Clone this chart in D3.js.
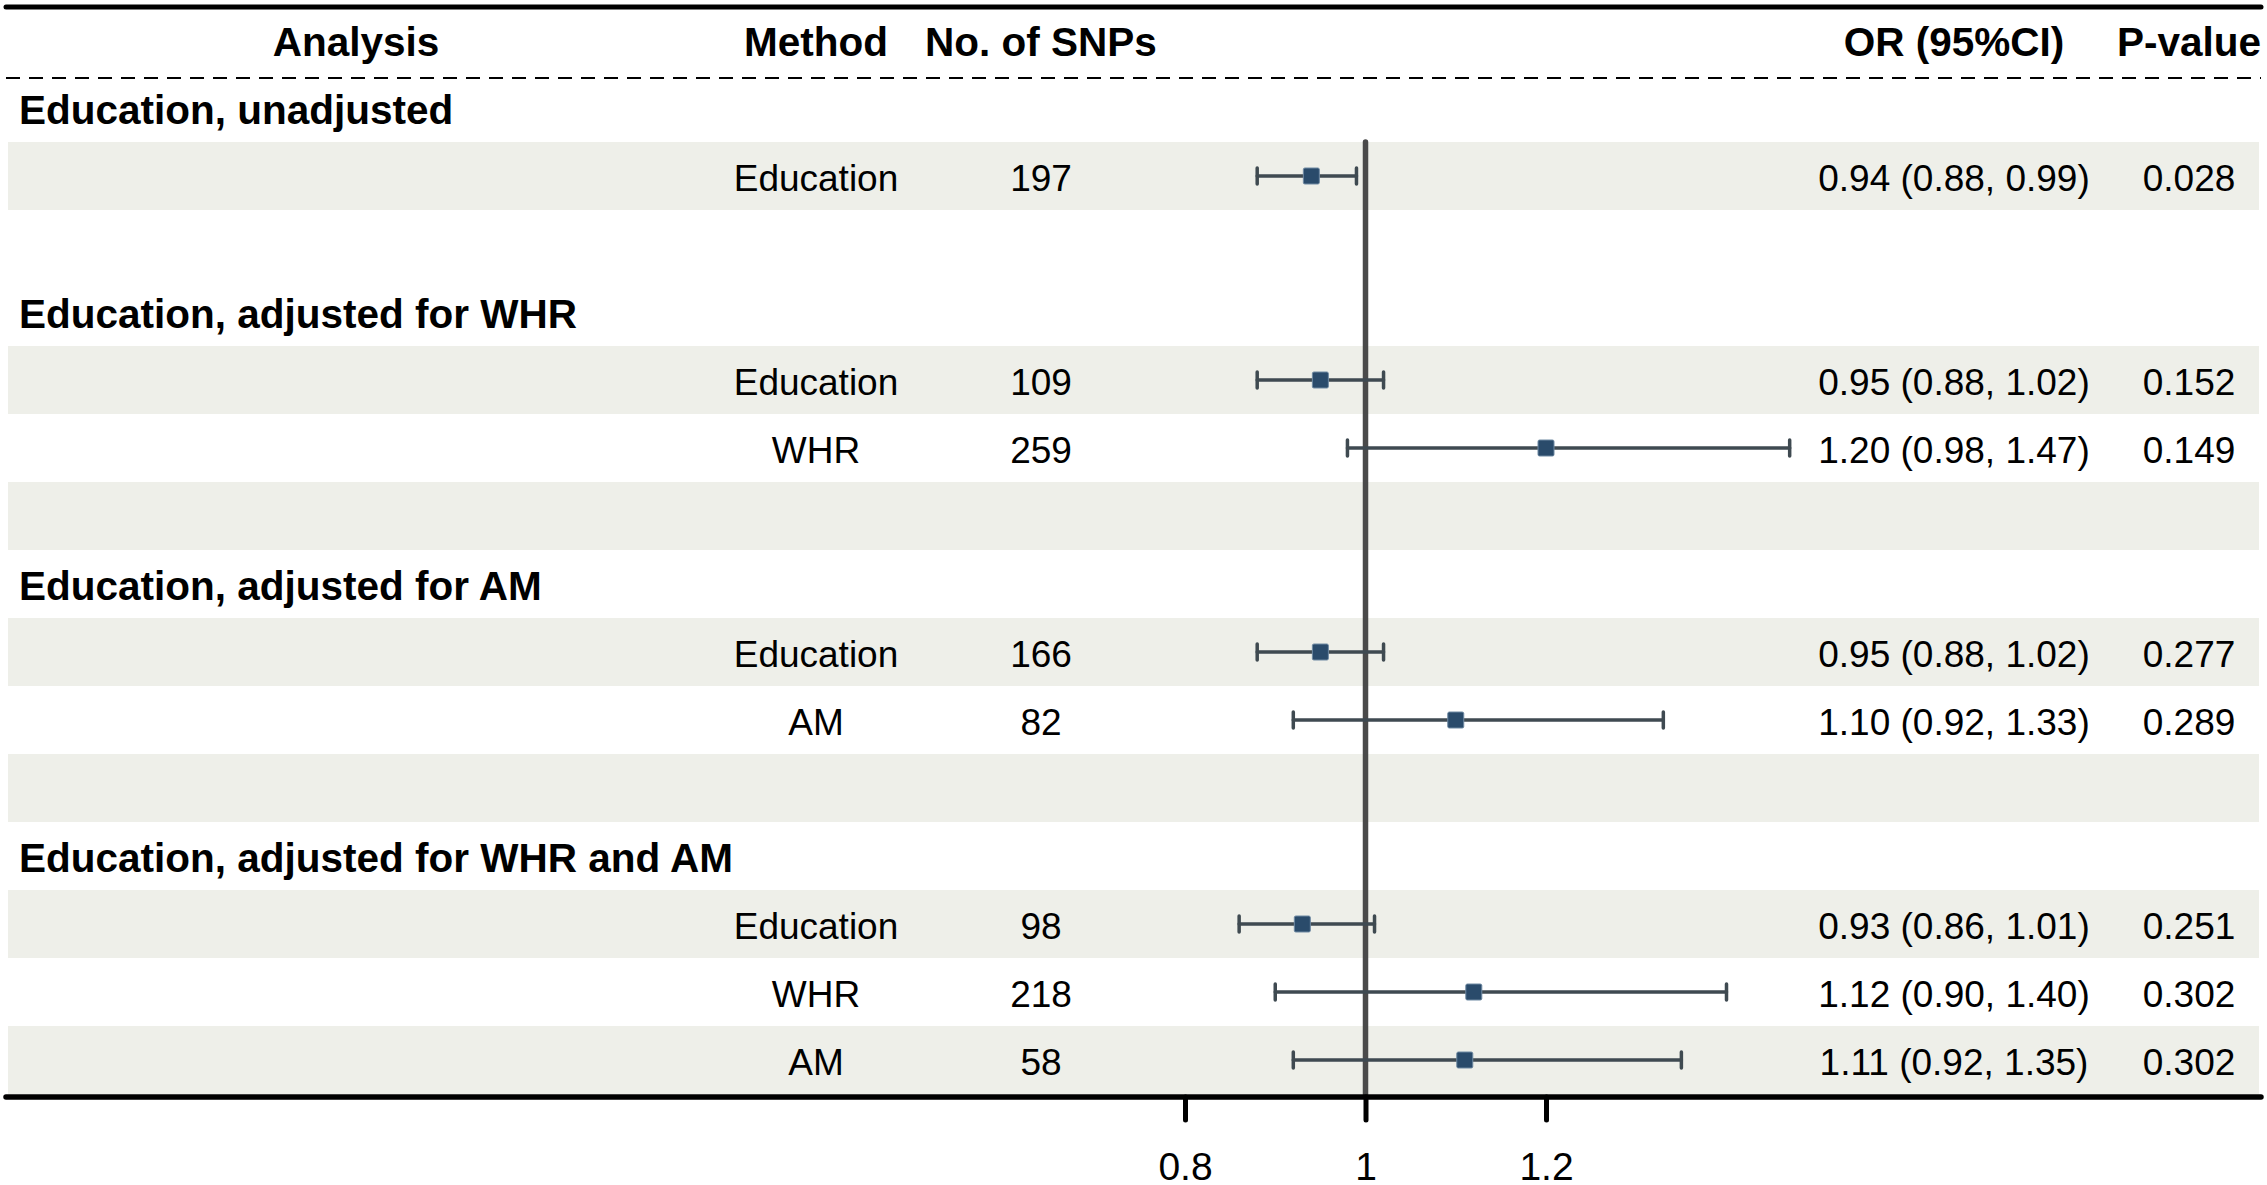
<!DOCTYPE html>
<meta charset="utf-8" />
<script src="https://d3js.org/d3.v7.min.js"></script>
<style>
  body { margin: 0; background: #fff; }
  text { font-family: "Liberation Sans", Arial, sans-serif; }
</style>
<div id="forest"></div>
<script>
  var width = 2267;
  var height = 1185;

  // data
  var groups = [
    "Education, unadjusted",
    "Education, adjusted for WHR",
    "Education, adjusted for AM",
    "Education, adjusted for WHR and AM"
  ];
  var groupIndex = [0, 1, 1, 2, 2, 3, 3, 3];
  var methods = ["Education", "Education", "WHR", "Education", "AM", "Education", "WHR", "AM"];
  var snps = [197, 109, 259, 166, 82, 98, 218, 58];
  var estimates = [0.94, 0.95, 1.20, 0.95, 1.10, 0.93, 1.12, 1.11];
  var lower = [0.88, 0.88, 0.98, 0.88, 0.92, 0.86, 0.90, 0.92];
  var upper = [0.99, 1.02, 1.47, 1.02, 1.33, 1.01, 1.40, 1.35];
  var pValues = ["0.028", "0.152", "0.149", "0.277", "0.289", "0.251", "0.302", "0.302"];
  var headers = ["Analysis", "Method", "No. of SNPs", "OR (95%CI)", "P-value"];
  var xTicks = [0.8, 1, 1.2];

  // build the table rows: group header, its estimates, then a spacer row
  var rows = [];
  groups.forEach(function(g, gi) {
    rows.push({ type: "group", label: g, shade: false });
    var k = 0;
    groupIndex.forEach(function(idx, i) {
      if (idx !== gi) return;
      rows.push({ type: "data", i: i, shade: k % 2 === 0 });
      k++;
    });
    if (gi < groups.length - 1) rows.push({ type: "blank", shade: k % 2 === 0 });
  });

  var rowH = 68;
  var tableTop = 74;
  var y = d3.scaleLinear().domain([0, rows.length]).range([tableTop, tableTop + rowH * rows.length]);
  var x = d3.scaleLinear().domain([0.8, 1.2]).range([1185, 1546]);

  var colX = { analysis: 356, method: 816, snps: 1041, or: 1954, p: 2189 };
  var headerX = [colX.analysis, colX.method, colX.snps, colX.or, colX.p];

  var svg = d3
    .select("#forest")
    .append("svg")
    .attr("width", width)
    .attr("height", height);

  // background bands
  svg.append("g")
    .selectAll("rect")
    .data(rows.filter(function(r) { return r.shade; }))
    .enter()
    .append("rect")
    .attr("x", 8)
    .attr("width", 2251)
    .attr("y", function(d) { return y(rows.indexOf(d)); })
    .attr("height", rowH)
    .attr("fill", "#eeefe9");

  // rules
  svg.append("line")
    .attr("x1", 6).attr("x2", 2261).attr("y1", 7).attr("y2", 7)
    .attr("stroke", "#000").attr("stroke-width", 5).attr("stroke-linecap", "round");
  svg.append("line")
    .attr("x1", 6).attr("x2", 2261).attr("y1", 78).attr("y2", 78)
    .attr("stroke", "#000").attr("stroke-width", 2).attr("stroke-dasharray", "14 9");

  // column headers
  svg.append("g")
    .selectAll("text")
    .data(headers)
    .enter()
    .append("text")
    .attr("x", function(d, i) { return headerX[i]; })
    .attr("y", 56)
    .attr("text-anchor", "middle")
    .style("font-size", "40.5px")
    .style("font-weight", "bold")
    .text(function(d) { return d; });

  // group labels
  svg.append("g")
    .selectAll("text")
    .data(rows.filter(function(r) { return r.type === "group"; }))
    .enter()
    .append("text")
    .attr("x", 19)
    .attr("y", function(d) { return y(rows.indexOf(d)) + rowH / 2 + 16; })
    .style("font-size", "40.5px")
    .style("font-weight", "bold")
    .text(function(d) { return d.label; });

  var dataRows = rows.filter(function(r) { return r.type === "data"; });
  var cy = function(d) { return y(rows.indexOf(d)) + rowH / 2; };

  var cells = svg.append("g")
    .selectAll("g")
    .data(dataRows)
    .enter()
    .append("g")
    .style("font-size", "37px")
    .attr("text-anchor", "middle");

  cells.append("text")
    .attr("x", colX.method)
    .attr("y", function(d) { return cy(d) + 15; })
    .text(function(d) { return methods[d.i]; });
  cells.append("text")
    .attr("x", colX.snps)
    .attr("y", function(d) { return cy(d) + 15; })
    .text(function(d) { return snps[d.i]; });
  cells.append("text")
    .attr("x", colX.or)
    .attr("y", function(d) { return cy(d) + 15; })
    .text(function(d) {
      var f = d3.format(".2f");
      return f(estimates[d.i]) + " (" + f(lower[d.i]) + ", " + f(upper[d.i]) + ")";
    });
  cells.append("text")
    .attr("x", colX.p)
    .attr("y", function(d) { return cy(d) + 15; })
    .text(function(d) { return pValues[d.i]; });

  // reference line at OR = 1
  svg.append("line")
    .attr("x1", x(1)).attr("x2", x(1))
    .attr("y1", y(1)).attr("y2", y(rows.length) + 3)
    .attr("stroke", "#4a4a4a").attr("stroke-width", 5.5).attr("stroke-linecap", "round");

  // confidence intervals
  var ci = svg.append("g")
    .selectAll("g")
    .data(dataRows)
    .enter()
    .append("g")
    .attr("stroke", "#3f4a51")
    .attr("stroke-width", 3.5)
    .attr("stroke-linecap", "round");
  ci.append("line")
    .attr("x1", function(d) { return x(lower[d.i]); })
    .attr("x2", function(d) { return x(upper[d.i]); })
    .attr("y1", cy).attr("y2", cy);
  ci.append("line")
    .attr("x1", function(d) { return x(lower[d.i]); })
    .attr("x2", function(d) { return x(lower[d.i]); })
    .attr("y1", function(d) { return cy(d) - 8; })
    .attr("y2", function(d) { return cy(d) + 8; });
  ci.append("line")
    .attr("x1", function(d) { return x(upper[d.i]); })
    .attr("x2", function(d) { return x(upper[d.i]); })
    .attr("y1", function(d) { return cy(d) - 8; })
    .attr("y2", function(d) { return cy(d) + 8; });

  svg.append("g")
    .selectAll("rect")
    .data(dataRows)
    .enter()
    .append("rect")
    .attr("x", function(d) { return x(estimates[d.i]) - 8; })
    .attr("y", function(d) { return cy(d) - 8; })
    .attr("width", 16)
    .attr("height", 16)
    .attr("rx", 1.5)
    .attr("fill", "#2a4b6b")
    .attr("stroke", "#6f8aa3")
    .attr("stroke-width", 1);

  // bottom rule and x axis
  var axisY = y(rows.length) + 3;
  svg.append("line")
    .attr("x1", 6).attr("x2", 2261).attr("y1", axisY).attr("y2", axisY)
    .attr("stroke", "#000").attr("stroke-width", 5.5).attr("stroke-linecap", "round");

  var axis = svg.append("g")
    .attr("transform", "translate(0," + axisY + ")")
    .call(
      d3.axisBottom(x)
        .tickValues(xTicks)
        .tickSize(23)
        .tickPadding(32)
        .tickFormat(d3.format(""))
    );
  axis.select(".domain").remove();
  axis.selectAll(".tick line")
    .attr("stroke", "#000")
    .attr("stroke-width", 5)
    .attr("stroke-linecap", "round");
  axis.selectAll(".tick text")
    .attr("fill", "#000")
    .style("font-size", "39px")
    .style("font-family", "'Liberation Sans', Arial, sans-serif");
</script>
